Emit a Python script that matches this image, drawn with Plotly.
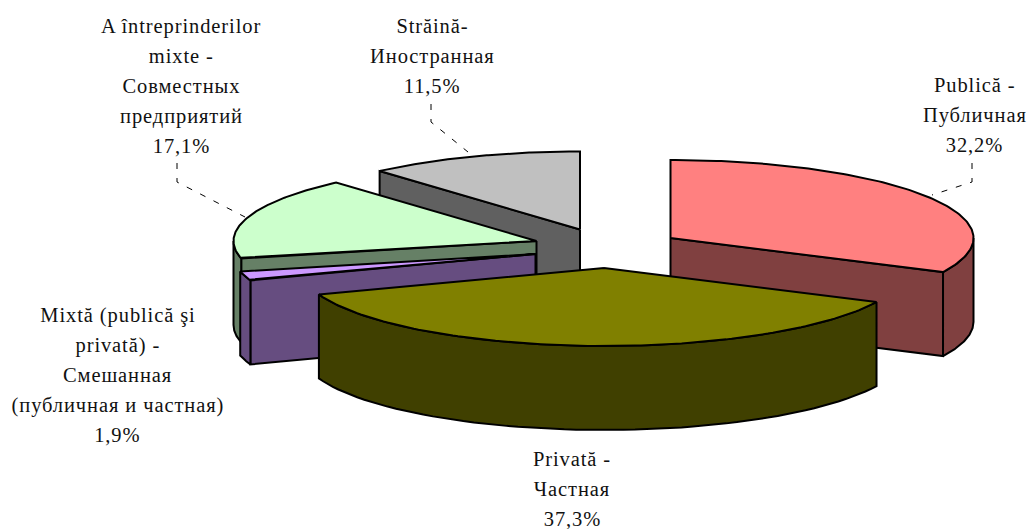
import math
import plotly.graph_objects as go

# Data, in pie order (clockwise from 12 o'clock)
names = ["Publică", "Privată", "Mixtă", "Mixte", "Străină"]
shares = [32.2, 37.3, 1.9, 17.1, 11.5]
value_labels = ["32,2%", "37,3%", "1,9%", "17,1%", "11,5%"]
label_lines = [
    ["Publică -", "Публичная"],
    ["Privată -", "Частная"],
    ["Mixtă (publică şi", "privată) -", "Смешанная", "(публичная и частная)"],
    ["A întreprinderilor", "mixte -", "Совместных", "предприятий"],
    ["Străină-", "Иностранная"],
]

# Style
top_colors = ["#FF8080", "#808000", "#CC99FF", "#CCFFCC", "#C0C0C0"]
side_colors = ["#804040", "#404000", "#664D80", "#668066", "#606060"]

# Projection of the exploded 3-D pie
RX, RY, DEPTH = 303, 78, 84
apex_x = [670.5, 604, 535.5, 536.5, 580]
apex_y = [238, 268, 254, 241, 229.5]
label_x = [974.5, 572, 117.5, 181, 432]
label_y = [85, 459, 315, 26, 26]
LINE_STEP = 30
leaders = [
    ([972, 972, 932], [163, 182, 195]),
    ([], []),
    ([], []),
    ([177, 177, 245], [163, 182, 217]),
    ([431, 431, 468], [104, 122, 152]),
]
draw_order = [4, 3, 2, 0, 1]

# Slice boundaries from the shares
total = sum(shares)
bounds = [0.0]
for s in shares:
    bounds.append(bounds[-1] + s / total * 2 * math.pi)

fig = go.Figure()


def poly(xs, ys, color):
    fig.add_trace(go.Scatter(
        x=xs + xs[:1], y=ys + ys[:1], mode="lines", fill="toself",
        fillcolor=color, line=dict(color="#000", width=2),
        hoverinfo="skip", showlegend=False))


def rim(cx, cy, a):
    return cx + RX * math.sin(a), cy - RY * math.cos(a)


for i in draw_order:
    a0, a1 = bounds[i], bounds[i + 1]
    cx, cy = apex_x[i], apex_y[i]
    # radial cut faces that look towards the viewer
    for a, sign in ((a0, -1), (a1, 1)):
        if sign * math.sin(a) > 1e-6:
            px, py = rim(cx, cy, a)
            poly([cx, px, px, cx], [cy, py, py + DEPTH, cy + DEPTH], side_colors[i])
    # outer wall, front half only
    lo, hi = max(a0, math.pi / 2), min(a1, 3 * math.pi / 2)
    if hi > lo:
        n = 60
        pts = [rim(cx, cy, lo + (hi - lo) * k / n) for k in range(n + 1)]
        xs = [p[0] for p in pts]
        ys = [p[1] for p in pts]
        poly(xs + xs[::-1], ys + [y + DEPTH for y in ys[::-1]], side_colors[i])
    # top face
    n = 120
    pts = [rim(cx, cy, a0 + (a1 - a0) * k / n) for k in range(n + 1)]
    poly([cx] + [p[0] for p in pts], [cy] + [p[1] for p in pts], top_colors[i])

for xs, ys in leaders:
    if xs:
        fig.add_trace(go.Scatter(
            x=xs, y=ys, mode="lines",
            line=dict(color="#000", width=1, dash="6px,9px"),
            hoverinfo="skip", showlegend=False))

annotations = []
for i in range(len(shares)):
    lines = label_lines[i] + [value_labels[i]]
    for k, text in enumerate(lines):
        annotations.append(dict(
            x=label_x[i], y=label_y[i] + k * LINE_STEP, text=text,
            xref="x", yref="y", showarrow=False, xanchor="center", yanchor="middle",
            font=dict(family="Liberation Serif", size=20.5, color="#111")))

fig.update_layout(
    width=1031, height=529, margin=dict(l=0, r=0, t=0, b=0),
    paper_bgcolor="white", plot_bgcolor="white", showlegend=False,
    xaxis=dict(range=[0, 1031], visible=False, fixedrange=True),
    yaxis=dict(range=[529, 0], visible=False, fixedrange=True),
    annotations=annotations,
)
page_fix = (
    "document.body.style.margin='0';"
    "var s=document.createElement('style');"
    "s.textContent='.annotation-text{letter-spacing:0.9px}';"
    "document.head.appendChild(s);"
)
fig.write_html("out.html", config=dict(displayModeBar=False), post_script=page_fix)
